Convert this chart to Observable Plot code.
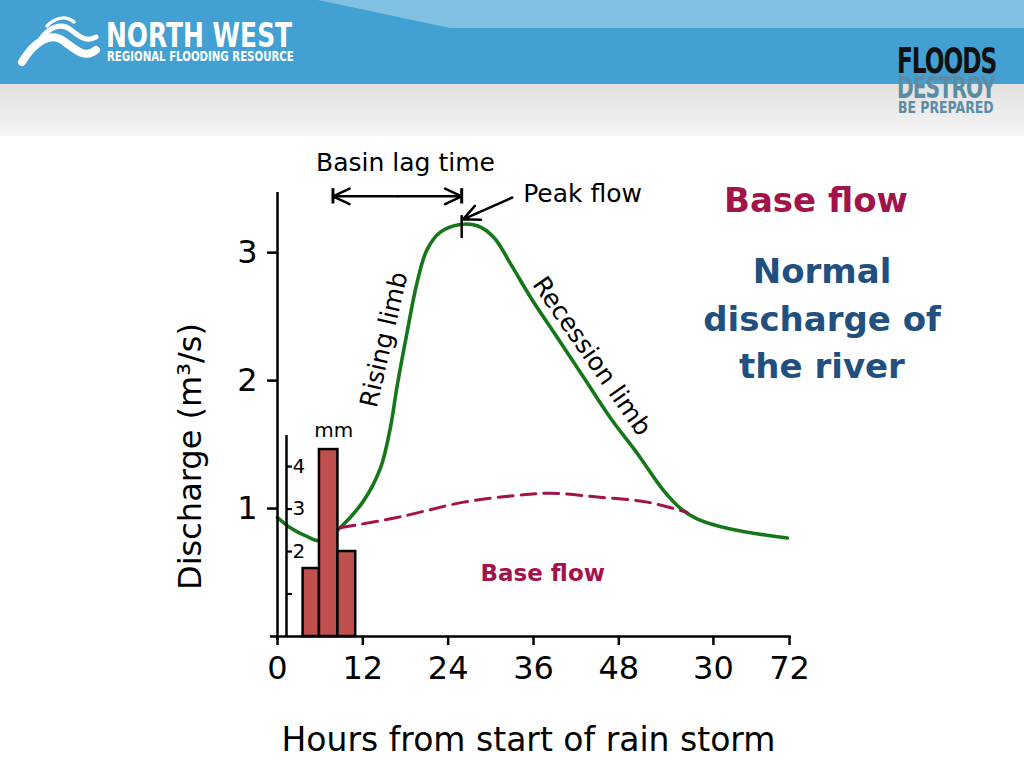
<!DOCTYPE html>
<html><head><meta charset="utf-8">
<script src="https://cdn.jsdelivr.net/npm/d3@7"></script>
<script src="https://cdn.jsdelivr.net/npm/@observablehq/plot@0.6"></script>
<style>
html,body{margin:0;padding:0;}
body{width:1024px;height:768px;overflow:hidden;background:#fff;position:relative;font-family:"DejaVu Sans",sans-serif;}
.layer{position:absolute;left:0;top:140px;}
.side{position:absolute;width:320px;text-align:center;font-weight:bold;font-size:34px;font-family:"DejaVu Sans",sans-serif;}
.logo{position:absolute;font-family:"Liberation Sans Narrow","DejaVu Sans Condensed",sans-serif;font-weight:bold;white-space:nowrap;transform-origin:left top;}
</style></head><body>
<svg id="header" width="1024" height="140" style="position:absolute;left:0;top:0">
  <defs><linearGradient id="g" x1="0" y1="0" x2="0" y2="1"><stop offset="0" stop-color="#e1e1e1"/><stop offset="1" stop-color="#f4f4f4"/></linearGradient></defs>
  <rect x="0" y="84" width="1024" height="52" fill="url(#g)"/>
  <rect x="0" y="0" width="1024" height="84" fill="#42a1d2"/>
  <polygon points="318,0 1024,0 1024,28 450,28" fill="#80c0e1"/>
  <g fill="none" stroke="#fff" stroke-linecap="round">
    <path d="M22,62 C34,42 50,32 62,40 S84,60 96,50" stroke-width="8"/>
    <path d="M40,40 C49,27 61,22 71,30 S87,42 96,37" stroke-width="5"/>
    <path d="M47,26 C55,18 65,15 74,22" stroke-width="3.5"/>
  </g>
</svg>
<div class="logo" style="left:106px;top:21px;font-size:33px;line-height:30px;color:#fff;transform:scaleX(0.84);">NORTH WEST</div>
<div class="logo" style="left:107px;top:50px;font-size:13.5px;line-height:12px;color:#fff;transform:scaleX(0.84);">REGIONAL FLOODING RESOURCE</div>
<div class="logo" style="left:897px;top:46px;font-size:36px;line-height:30px;color:#111;letter-spacing:-1.5px;transform:scaleX(0.72);">FLOODS</div>
<div class="logo" style="left:897px;top:76px;font-size:30px;line-height:23px;color:#5b8ca6;letter-spacing:-1.5px;transform:scaleX(0.75);">DESTROY</div>
<div class="logo" style="left:898px;top:100px;font-size:16.5px;line-height:15px;color:#5b8ca6;transform:scaleX(0.84);">BE PREPARED</div>
<div id="main" class="layer"></div>
<div id="rain" class="layer"></div>
<div class="side" style="left:656px;top:180px;line-height:40px;color:#a3134b;">Base flow</div>
<div class="side" style="left:662px;top:248px;line-height:47.5px;color:#21507f;">Normal<br>discharge of<br>the river</div>
<script>
// ---- data ----
const hours = [0, 1.8, 4.2, 6.3, 8.8, 12.1, 14.5, 15.9, 16.8, 18.2, 19.6, 21.0, 22.9, 25.7, 28.1, 30.4, 32.8, 35.6, 39.3, 43.0, 46.8, 50.6, 54.3, 56.7, 59.0, 63.7, 71.7];
const discharge = [0.93, 0.85, 0.78, 0.745, 0.85, 1.06, 1.32, 1.64, 1.95, 2.37, 2.76, 3.02, 3.16, 3.22, 3.21, 3.12, 2.91, 2.65, 2.34, 2.03, 1.71, 1.43, 1.14, 1.00, 0.92, 0.84, 0.77];
const baseHours = [8.8, 16.8, 26.2, 33.2, 38.4, 45.0, 52.0, 57.6];
const baseDischarge = [0.85, 0.93, 1.05, 1.10, 1.12, 1.09, 1.05, 0.97];
const rainStart = [3.6, 5.9, 8.5];
const rainEnd = [5.9, 8.5, 11.0];
const rainMm = [1.6, 4.4, 2.0];
const xTickValues = [0, 12, 24, 36, 48, 61.3, 72];
const xTickLabels = ["0", "12", "24", "36", "48", "30", "72"];
const yTickValues = [1, 2, 3];
const rainTickValues = [1, 2, 3, 4];
const rainTickLabels = ["", "2", "3", "4"];
const rainAxisTop = 4.73;
const peakHour = 25.9;
const lagStart = 7.8;
const notes = [
  {text: "Basin lag time", h: 18.0, q: 3.70, rotate: 0},
  {text: "Peak flow", h: 42.9, q: 3.46, rotate: 0},
  {text: "Rising limb", h: 15.0, q: 2.32, rotate: -77},
  {text: "Recession limb", h: 44.2, q: 2.19, rotate: 55}
];

// ---- layout ----
const W = 1024, H = 628;
const mTop = 52, mBottom = 132, mLeft = 277, mRight = 235;
const yTop = 3.47;
const mmPerUnit = 128 / 42.5;
const green = "#15761a", crimson = "#a3134b";
const font = "DejaVu Sans, sans-serif";

const flow = hours.map((h, i) => ({h, q: discharge[i]}));
const base = baseHours.map((h, i) => ({h, q: baseDischarge[i]}));
const rain = rainMm.map((mm, i) => ({x1: rainStart[i], x2: rainEnd[i], mm}));
const xLabel = new Map(xTickValues.map((v, i) => [v, xTickLabels[i]]));
const rainLabel = new Map(rainTickValues.map((v, i) => [v, rainTickLabels[i]]));
const lagMid = (lagStart + peakHour) / 2;

const main = Plot.plot({
  width: W, height: H, marginTop: mTop, marginBottom: mBottom, marginLeft: mLeft, marginRight: mRight,
  x: {domain: [0, 72]}, y: {domain: [0, yTop]},
  style: {fontFamily: font, color: "#000", background: "transparent", overflow: "visible"},
  marks: [
    Plot.line(flow, {x: "h", y: "q", curve: "catmull-rom", stroke: green, strokeWidth: 3.6}),
    Plot.line(base, {x: "h", y: "q", curve: "catmull-rom", stroke: crimson, strokeWidth: 3, strokeDasharray: "15,8"}),
    Plot.ruleY([0], {insetLeft: -7, insetRight: -2, strokeWidth: 2.5}),
    Plot.ruleX([0], {insetBottom: -4, strokeWidth: 2.5}),
    Plot.axisY({ticks: yTickValues, tickFormat: d => String(d), tickSize: 10, tickPadding: 10, fontSize: 32, strokeWidth: 2.5, label: null}),
    Plot.axisX({ticks: xTickValues, tickFormat: d => xLabel.get(d), tickSize: 9, tickPadding: 11, fontSize: 32, strokeWidth: 2.5, label: null}),
    Plot.text(["Hours from start of rain storm"], {frameAnchor: "bottom", textAnchor: "middle", lineAnchor: "middle", dx: -5, dy: 104, fontSize: 33}),
    Plot.text(["Discharge (m³/s)"], {frameAnchor: "left", textAnchor: "middle", lineAnchor: "middle", rotate: -90, dx: -87, dy: 42, fontSize: 32}),
    // basin lag time arrow
    Plot.arrow([{a: lagMid, b: lagStart}, {a: lagMid, b: peakHour}], {x1: "a", x2: "b", y1: 3.44, y2: 3.44, headLength: 11, headAngle: 50, strokeWidth: 2.5, stroke: "#000"}),
    Plot.ruleX([lagStart, peakHour], {y1: 3.38, y2: 3.50, strokeWidth: 3}),
    // peak marker and arrow
    Plot.ruleX([peakHour], {y1: 3.11, y2: 3.29, strokeWidth: 2.5}),
    Plot.arrow([{h1: 33.0, q1: 3.43, h2: 26.1, q2: 3.26}], {x1: "h1", y1: "q1", x2: "h2", y2: "q2", headLength: 11, headAngle: 50, strokeWidth: 2.5, stroke: "#000"}),
    Plot.text(notes, {x: "h", y: "q", text: "text", rotate: "rotate", fontSize: 25}),
    Plot.text(["mm"], {x: 7.9, y: 1.61, fontSize: 20}),
    Plot.text(["Base flow"], {x: 37.3, y: 0.49, fontSize: 23, fontWeight: "bold", fill: crimson})
  ]
});
document.getElementById("main").appendChild(main);

const rainPlot = Plot.plot({
  width: W, height: H, marginTop: mTop, marginBottom: mBottom, marginLeft: mLeft, marginRight: mRight,
  x: {domain: [0, 72], axis: null}, y: {domain: [0, yTop * mmPerUnit]},
  style: {fontFamily: font, color: "#000", background: "transparent", overflow: "visible"},
  marks: [
    Plot.ruleX([0], {y1: 0, y2: rainAxisTop, dx: 9, strokeWidth: 2.5}),
    Plot.axisY({ticks: rainTickValues, tickFormat: d => rainLabel.get(d), tickSize: -6, tickPadding: 0, dx: 9, textAnchor: "start", fontSize: 20, strokeWidth: 2.2, label: null}),
    Plot.rectY(rain, {x1: "x1", x2: "x2", y: "mm", fill: "#c0504d", stroke: "#000", strokeWidth: 2.5})
  ]
});
document.getElementById("rain").appendChild(rainPlot);
</script>
</body></html>
